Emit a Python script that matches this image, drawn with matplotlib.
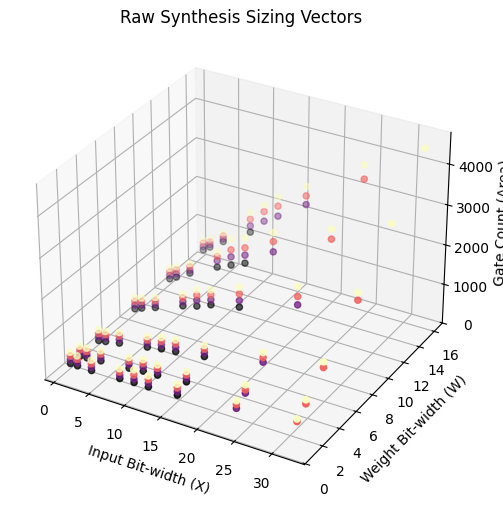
import matplotlib
matplotlib.use("Agg")
import matplotlib.pyplot as plt
import numpy as np

input_bits = [1, 2, 4, 8, 10, 12, 16, 24, 32]
weight_bits = [1, 2, 4, 8, 12, 16]
output_bits = [8, 16, 24, 32]

# gate counts per weight width, one list per output width; a list stops at the
# largest input width that still fits
gates_y8 = [
    [316, 315, 310, 338, 353, 361, 386],
    [305, 315, 352, 395, 434, 448, 510],
    [299, 329, 400, 522, 591, 635, 735],
    [330, 402, 526, 786, 887, 1028, 1186],
    [348, 446, 655, 1021, 1177, 1332],
    [371, 494, 744, 1194],
]
gates_y16 = [
    [418, 391, 391, 419, 438, 453, 476, 528],
    [378, 391, 436, 491, 535, 531, 598, 694],
    [393, 423, 491, 613, 692, 741, 828, 1049],
    [426, 487, 614, 888, 1034, 1155, 1352, 1676],
    [440, 532, 728, 1183, 1390, 1536, 1826],
    [458, 563, 816, 1358, 1580, 1809, 2304],
]
gates_y24 = [
    [512, 480, 480, 499, 546, 544, 568, 622, 679],
    [462, 475, 522, 579, 630, 619, 685, 776, 900],
    [478, 500, 586, 707, 780, 837, 921, 1163, 1373],
    [524, 573, 699, 991, 1166, 1281, 1520, 1882, 2223],
    [532, 637, 820, 1294, 1569, 1722, 2086, 2553],
    [549, 634, 895, 1532, 1828, 2066, 2524, 3330],
]
gates_y32 = [
    [605, 568, 573, 582, 672, 636, 660, 714, 741],
    [556, 561, 606, 662, 726, 706, 768, 899, 998],
    [572, 584, 670, 790, 876, 930, 1011, 1287, 1512],
    [622, 661, 783, 1092, 1301, 1407, 1688, 2128, 2408],
    [629, 723, 898, 1407, 1841, 1976, 2312, 2800, 3339],
    [636, 706, 966, 1703, 2001, 2296, 2759, 3682, 4464],
]

xs, ws, ys, zs = [], [], [], []
for y, table in zip(output_bits, [gates_y8, gates_y16, gates_y24, gates_y32]):
    for w, row in zip(weight_bits, table):
        for x, gates in zip(input_bits, row):
            xs.append(x)
            ws.append(w)
            ys.append(y)
            zs.append(gates)

fig = plt.figure(figsize=(5.03, 5.07), dpi=100)
ax = fig.add_axes([0.0199, 0.0261, 0.9185, 0.9112], projection='3d')
ax.scatter(xs, ws, zs, c=ys, cmap='magma')
ax.set_xlabel('Input Bit-width (X)')
ax.set_ylabel('Weight Bit-width (W)')
ax.set_zlabel('Gate Count (Area)')
ax.set_title('Raw Synthesis Sizing Vectors')
fig.savefig('out.png', dpi=100)
